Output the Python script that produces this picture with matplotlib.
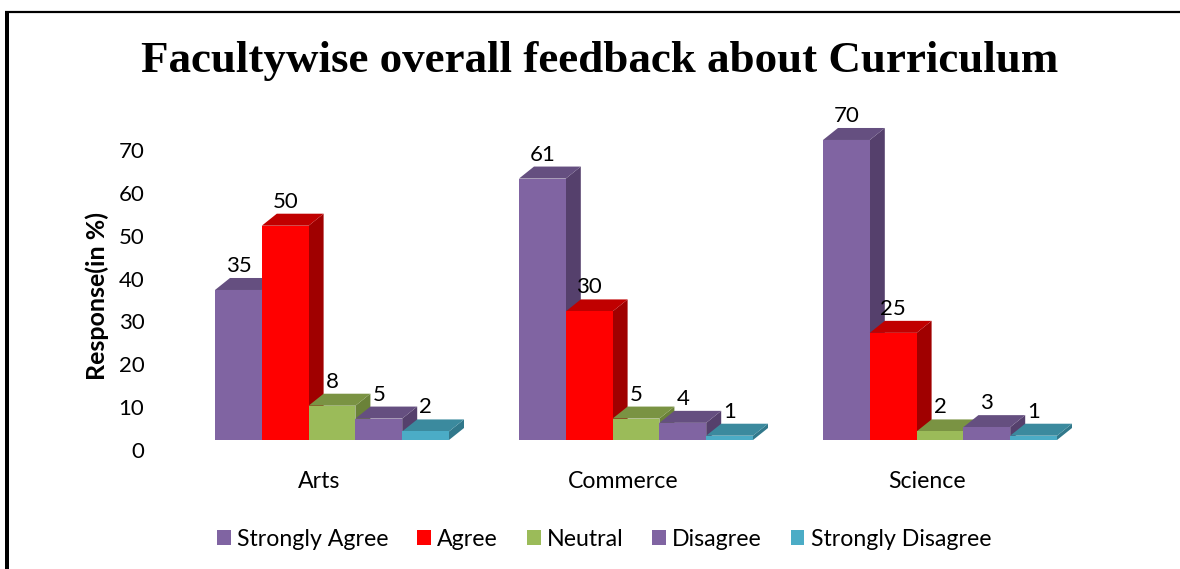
import matplotlib
matplotlib.use("Agg")
import matplotlib.pyplot as plt
from matplotlib.lines import Line2D
from matplotlib.patches import Patch
from matplotlib.transforms import ScaledTranslation

categories = ["Arts", "Commerce", "Science"]
series_names = ["Strongly Agree", "Agree", "Neutral", "Disagree", "Strongly Disagree"]
strongly_agree = [35, 61, 70]
agree = [50, 30, 25]
neutral = [8, 5, 2]
disagree = [5, 4, 3]
strongly_disagree = [2, 1, 1]
y_ticks = [0, 10, 20, 30, 40, 50, 60, 70]

series = [strongly_agree, agree, neutral, disagree, strongly_disagree]
front = ["#8064A2", "#FF0000", "#9BBB59", "#8064A2", "#4BACC6"]
top = ["#654F80", "#C00000", "#7A9343", "#654F80", "#3B8A9E"]
side = ["#55406C", "#A00000", "#6B8239", "#55406C", "#31788B"]

W, H = 1180, 569
DPI = 100
fig = plt.figure(figsize=(W / DPI, H / DPI), dpi=DPI, facecolor="white")

# pixel layout
L, R, B, T = 150, 1100, 440, 100
GROUP_PX = 304.0
UNIT_PX = 4.286
ZERO_PX = 319.0
ax = fig.add_axes([L / W, (H - B) / H, (R - L) / W, (B - T) / H])
ax.set_xlim((L - ZERO_PX) / GROUP_PX, (R - ZERO_PX) / GROUP_PX)
ax.set_ylim(0, (B - T) / UNIT_PX)
ax.patch.set_alpha(0)
for s in ax.spines.values():
    s.set_visible(False)

bw = 46.8 / GROUP_PX
start = -104 / GROUP_PX
dx = 15 / GROUP_PX
dy = 12 / UNIT_PX
SANS = "Lato"

for j, vals in enumerate(series):
    for i, v in enumerate(vals):
        x0 = i + start + j * bw
        x1 = x0 + bw
        z = 2 + j
        ax.fill([x1, x1 + dx, x1 + dx, x1], [0, dy, v + dy, v], color=side[j], lw=0, zorder=z, clip_on=False)
        ax.fill([x0, x0 + dx, x1 + dx, x1], [v, v + dy, v + dy, v], color=top[j], lw=0, zorder=z, clip_on=False)
        ax.bar(x0, v, width=bw, align="edge", color=front[j], lw=0, zorder=z, clip_on=False)
        ax.annotate(str(v), (x0 + bw / 2, v), xytext=(0, 24 / DPI * 72), textcoords="offset points",
                    ha="center", va="center", fontsize=16, family=SANS, color="black", zorder=20)

ax.set_xticks(range(len(categories)), categories)
ax.set_yticks(y_ticks, [str(t) for t in y_ticks])
ax.tick_params(axis="both", length=0)
ax.tick_params(axis="x", pad=22.5)
ax.tick_params(axis="y", pad=4)
for lab in ax.get_xticklabels():
    lab.set_fontfamily(SANS)
    lab.set_fontsize(16.7)
for lab in ax.get_yticklabels():
    lab.set_fontfamily(SANS)
    lab.set_fontsize(16)
off = ScaledTranslation(0, -10 / DPI, fig.dpi_scale_trans)
for lab in ax.get_yticklabels():
    lab.set_transform(lab.get_transform() + off)

fig.text(600 / W, 1 - 61 / H, "Facultywise overall feedback about Curriculum", ha="center", va="center",
         family="Liberation Serif", weight="bold", fontsize=32.45, color="black")
fig.text(97 / W, 1 - 296 / H, "Response(in %)", rotation=90, ha="center", va="center",
         family=SANS, weight="bold", fontsize=18, color="black")

handles = [Patch(facecolor=c, edgecolor="none", label=n) for c, n in zip(front, series_names)]
fig.legend(handles=handles, ncol=5, loc="center", bbox_to_anchor=(604 / W, 1 - 539 / H), frameon=False,
           prop={"family": SANS, "size": 16.7}, handlelength=0.6, handleheight=0.6, handletextpad=0.26,
           columnspacing=1.24, borderpad=0)

# frame of the source picture: left and top only
fig.add_artist(Line2D([7 / W, 7 / W], [0, 1 - 11 / H], color="black", lw=4 * 72 / DPI, solid_capstyle="butt"))
fig.add_artist(Line2D([5 / W, 1], [1 - 12 / H, 1 - 12 / H], color="black", lw=2.2 * 72 / DPI, solid_capstyle="butt"))

fig.savefig("out.png", dpi=DPI, facecolor="white")
